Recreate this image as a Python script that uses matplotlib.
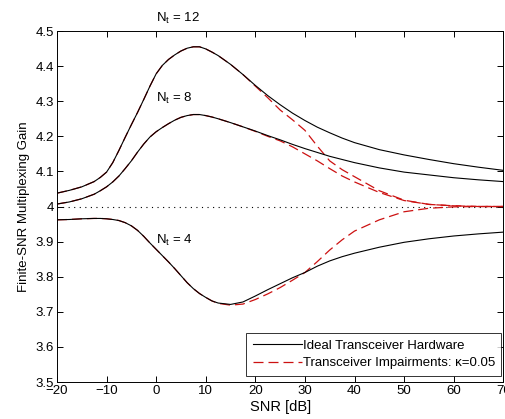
import matplotlib
matplotlib.use('Agg')
import matplotlib.pyplot as plt

# SNR-Achse [dB]
snr = [-20, -17.5, -15, -12.5, -11.25, -10, -8.75, -7.5, -6.25, -5, -3.75,
       -2.5, -1.25, 0, 1.25, 2.5, 3.75, 5, 6.25, 7.5, 8.75, 10, 11.25, 12.5,
       15, 17.5, 20, 22.5, 25, 27.5, 30, 32.5, 35, 37.5, 40, 45, 50, 55, 60,
       65, 70]

# ideale Hardware
ideal_12 = [4.038, 4.046, 4.056, 4.071, 4.083, 4.098, 4.125, 4.16, 4.197,
            4.233, 4.268, 4.305, 4.343, 4.378, 4.402, 4.419, 4.432, 4.443,
            4.451, 4.455, 4.455, 4.449, 4.44, 4.43, 4.405, 4.376, 4.345,
            4.316, 4.29, 4.266, 4.245, 4.226, 4.21, 4.195, 4.182, 4.162,
            4.147, 4.134, 4.122, 4.112, 4.103]
ideal_8 = [4.007, 4.013, 4.022, 4.035, 4.045, 4.056, 4.07, 4.087, 4.108,
           4.13, 4.155, 4.178, 4.198, 4.213, 4.225, 4.236, 4.246, 4.254,
           4.259, 4.262, 4.262, 4.259, 4.255, 4.25, 4.239, 4.227, 4.215,
           4.202, 4.19, 4.177, 4.165, 4.154, 4.143, 4.134, 4.125, 4.11,
           4.098, 4.09, 4.082, 4.076, 4.071]
ideal_4 = [3.962, 3.963, 3.965, 3.966, 3.966, 3.965, 3.963, 3.96, 3.954,
           3.945, 3.932, 3.915, 3.896, 3.878, 3.86, 3.842, 3.823, 3.803,
           3.783, 3.766, 3.752, 3.741, 3.731, 3.725, 3.721, 3.728, 3.745,
           3.763, 3.78, 3.797, 3.812, 3.83, 3.845, 3.857, 3.867, 3.884,
           3.898, 3.908, 3.916, 3.922, 3.927]

# Hardware-Beeintraechtigungen, kappa = 0.05
imp_12 = [4.038, 4.046, 4.056, 4.071, 4.083, 4.098, 4.125, 4.16, 4.197,
          4.233, 4.268, 4.305, 4.343, 4.378, 4.402, 4.419, 4.432, 4.443,
          4.451, 4.455, 4.455, 4.449, 4.44, 4.43, 4.405, 4.376, 4.343,
          4.31, 4.275, 4.247, 4.217, 4.172, 4.13, 4.105, 4.085, 4.045,
          4.018, 4.006, 4.002, 4.0, 4.0]
imp_8 = [4.007, 4.013, 4.022, 4.035, 4.045, 4.056, 4.07, 4.087, 4.108,
         4.13, 4.155, 4.178, 4.198, 4.213, 4.225, 4.236, 4.246, 4.254,
         4.259, 4.262, 4.262, 4.259, 4.255, 4.25, 4.239, 4.227, 4.214,
         4.2, 4.187, 4.17, 4.15, 4.13, 4.108, 4.087, 4.07, 4.04,
         4.017, 4.006, 4.002, 4.0, 4.0]
imp_4 = [3.962, 3.963, 3.965, 3.966, 3.966, 3.965, 3.963, 3.96, 3.954,
         3.945, 3.932, 3.915, 3.896, 3.878, 3.86, 3.842, 3.823, 3.803,
         3.783, 3.766, 3.752, 3.741, 3.731, 3.724, 3.719, 3.722, 3.735,
         3.751, 3.769, 3.79, 3.812, 3.843, 3.876, 3.905, 3.93, 3.962,
         3.985, 3.995, 3.999, 4.0, 4.0]

labels = [r'N$_{\rm t}$ = 12', r'N$_{\rm t}$ = 8', r'N$_{\rm t}$ = 4']
label_pos = [(0, 4.537), (0, 4.307), (0, 3.902)]

plt.rcParams['font.family'] = ['Liberation Sans', 'DejaVu Sans']
plt.rcParams['mathtext.fontset'] = 'custom'
plt.rcParams['mathtext.rm'] = 'Liberation Sans'

fig = plt.figure(figsize=(5.06, 4.19), dpi=100)
ax = fig.add_axes([0.1126, 0.0883, 0.882, 0.8377])

ax.plot([-20, 70], [4, 4], color='black', linestyle=(0, (1, 4)), linewidth=0.8)

# rot zuerst, schwarz darueber (wie im Original)
for y in (imp_12, imp_8, imp_4):
    red, = ax.plot(snr, y, color='#cc1111', linestyle=(0, (8, 4)), linewidth=0.9)
for y in (ideal_12, ideal_8, ideal_4):
    black, = ax.plot(snr, y, color='black', linewidth=0.8)

for lab, (lx, ly) in zip(labels, label_pos):
    ax.text(lx, ly, lab, fontsize=9.5, va='center', ha='left')

ax.set_xlim(-20, 70)
ax.set_ylim(3.5, 4.5)
ax.set_xticks(range(-20, 71, 10))
ax.set_yticks([3.5, 3.6, 3.7, 3.8, 3.9, 4.0, 4.1, 4.2, 4.3, 4.4, 4.5])
ax.set_yticklabels(['3.5', '3.6', '3.7', '3.8', '3.9', '4', '4.1', '4.2',
                    '4.3', '4.4', '4.5'])
ax.tick_params(direction='in', top=True, right=True, length=4, width=0.7,
               labelsize=9.5, pad=2)
for s in ax.spines.values():
    s.set_linewidth(0.7)

ax.set_xlabel('SNR [dB]', fontsize=10.5, labelpad=2)
ax.set_ylabel('Finite-SNR Multiplexing Gain', fontsize=9.5, labelpad=4)

leg = ax.legend([black, red], ['Ideal Transceiver Hardware',
                               'Transceiver Impairments: \u03ba=0.05'],
                loc='lower right', bbox_to_anchor=(0.996, 0.017),
                fontsize=9.5, frameon=True, fancybox=False,
                borderaxespad=0, handlelength=3.7, handletextpad=0.08,
                borderpad=0.5, labelspacing=0.4)
leg.get_frame().set_edgecolor('black')
leg.get_frame().set_linewidth(0.7)

fig.savefig('out.png', dpi=100)
